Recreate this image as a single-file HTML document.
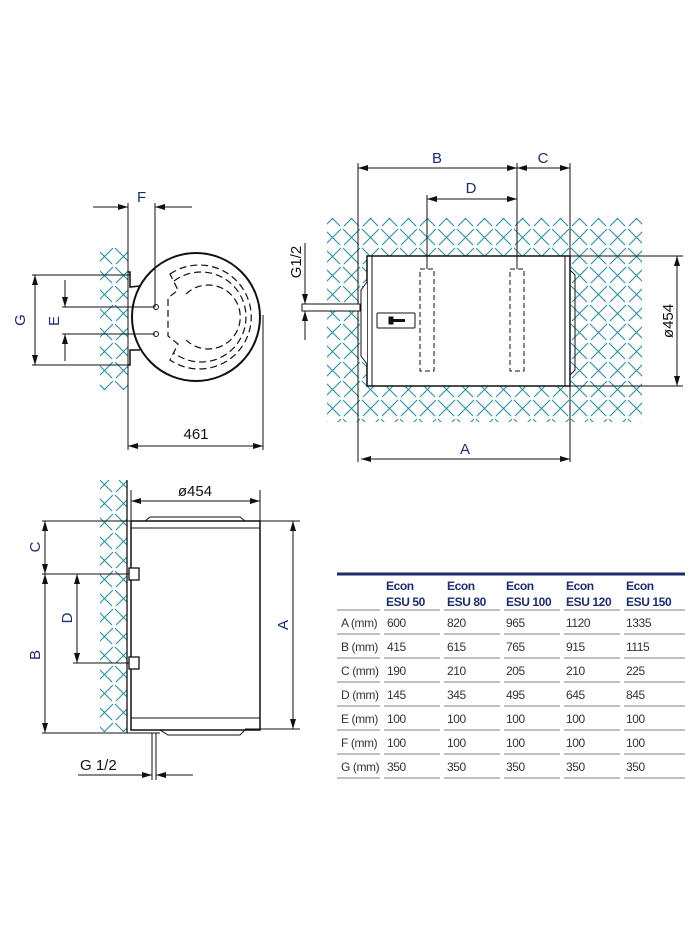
<!DOCTYPE html>
<html><head><meta charset="utf-8"><style>
html,body{margin:0;padding:0;background:#fff}
svg{display:block}
.t{font-family:"Liberation Sans",sans-serif;fill:#1d2d6b;font-size:15px}
.k{font-family:"Liberation Sans",sans-serif;fill:#111;font-size:15px}
.tb{font-family:"Liberation Sans Narrow","Liberation Sans",sans-serif;font-size:12px;fill:#333;letter-spacing:-0.4px}
.th{font-family:"Liberation Sans Narrow","Liberation Sans",sans-serif;font-size:12px;fill:#1d2d6b;font-weight:bold;letter-spacing:-0.4px}
</style></head><body>
<svg width="700" height="933" viewBox="0 0 700 933" xmlns="http://www.w3.org/2000/svg">
<defs>
<pattern id="h" width="19" height="19" patternUnits="userSpaceOnUse">
<path d="M1,1 L17,17 M18,1 L2,17" stroke="#2a8fa0" stroke-width="1.1"/>
</pattern>
<marker id="a" markerWidth="10" markerHeight="6" refX="10" refY="3" orient="auto-start-reverse" markerUnits="userSpaceOnUse">
<path d="M0,0 L10,3 L0,6 Z" fill="#111"/>
</marker>
</defs>
<g stroke="#111" stroke-width="1" fill="none">
<!-- TOP LEFT -->
<rect x="100" y="248" width="28" height="142" fill="url(#h)" stroke="none"/>
<line x1="128" y1="203" x2="128" y2="450"/>
<line x1="155" y1="203" x2="155" y2="307"/>
<line x1="263" y1="315" x2="263" y2="450"/>
<line x1="93" y1="207" x2="128" y2="207" marker-end="url(#a)"/>
<line x1="192" y1="207" x2="155" y2="207" marker-end="url(#a)"/>
<line x1="128" y1="446" x2="263" y2="446" marker-start="url(#a)" marker-end="url(#a)"/>
<line x1="32" y1="275" x2="130" y2="275"/>
<line x1="32" y1="365" x2="130" y2="365"/>
<line x1="35" y1="275" x2="35" y2="365" marker-start="url(#a)" marker-end="url(#a)"/>
<line x1="62" y1="307" x2="155" y2="307"/>
<line x1="62" y1="334" x2="155" y2="334"/>
<line x1="65" y1="280" x2="65" y2="307" marker-end="url(#a)"/>
<line x1="65" y1="361" x2="65" y2="334" marker-end="url(#a)"/>
<circle cx="196" cy="317" r="64" stroke-width="2"/>
<path d="M128,272 L130,272 L130,287 L140,286 M128,365 L130,365 L130,350 L140,350" stroke-width="1.5"/>
<circle cx="156" cy="307" r="2.5"/>
<circle cx="156" cy="334" r="2.5"/>
<g stroke-dasharray="7,4" stroke-width="1.2">
<path d="M186,294 A32,32 0 1 1 186,340"/>
<path d="M170,274 A52,52 0 1 1 170,360 L178,344 L168,336 L168,298 L178,290 Z"/>
<path d="M174,281 A45,45 0 1 1 174,353"/>
</g>
<!-- TOP RIGHT -->
<path fill="url(#h)" stroke="none" fill-rule="evenodd" d="M327,218 H642 V422 H327 Z M367,256 H570 V386 H367 Z"/>
<rect x="367" y="256" width="203" height="130" fill="#fff" stroke-width="1.5"/>
<line x1="372" y1="256" x2="372" y2="386"/>
<line x1="565" y1="256" x2="565" y2="386"/>
<path d="M367,282 L361,290 L361,356 L367,364" fill="#fff"/>
<path d="M570,270 L575,275 L575,370 L570,375"/>
<line x1="358" y1="163" x2="358" y2="462"/>
<line x1="570" y1="163" x2="570" y2="462"/>
<line x1="517" y1="163" x2="517" y2="272"/>
<line x1="427" y1="195" x2="427" y2="272"/>
<line x1="358" y1="168" x2="517" y2="168" marker-start="url(#a)" marker-end="url(#a)"/>
<line x1="517" y1="168" x2="570" y2="168" marker-start="url(#a)" marker-end="url(#a)"/>
<line x1="427" y1="199" x2="517" y2="199" marker-start="url(#a)" marker-end="url(#a)"/>
<line x1="361" y1="459" x2="570" y2="459" marker-start="url(#a)" marker-end="url(#a)"/>
<line x1="570" y1="256" x2="683" y2="256"/>
<line x1="570" y1="386" x2="683" y2="386"/>
<line x1="677" y1="256" x2="677" y2="386" marker-start="url(#a)" marker-end="url(#a)"/>
<rect x="420" y="269" width="14" height="102" stroke-dasharray="5,3" fill="#fff"/>
<rect x="510" y="269" width="14" height="102" stroke-dasharray="5,3" fill="#fff"/>
<rect x="377" y="313" width="38" height="15" rx="1"/>
<rect x="389" y="317" width="4" height="7" fill="#111"/>
<line x1="393" y1="320.5" x2="405" y2="320.5" stroke-width="3"/>
<rect x="302" y="304" width="58" height="7" fill="#fff"/>
<line x1="305" y1="243" x2="305" y2="304" marker-end="url(#a)"/>
<line x1="305" y1="340" x2="305" y2="311" marker-end="url(#a)"/>
<!-- BOTTOM LEFT -->
<rect x="100" y="480" width="27" height="252" fill="url(#h)" stroke="none"/>
<line x1="127" y1="480" x2="127" y2="733" stroke-width="1.3"/>
<rect x="131" y="521" width="129" height="209" stroke-width="1.5"/>
<line x1="131" y1="528" x2="260" y2="528"/>
<line x1="131" y1="718" x2="260" y2="718"/>
<path d="M145,521 L150,517 L240,517 L245,521"/>
<path d="M160,730 L168,735 L240,735 L245,730"/>
<line x1="131" y1="490" x2="131" y2="521"/>
<line x1="260" y1="490" x2="260" y2="521"/>
<line x1="131" y1="501" x2="260" y2="501" marker-start="url(#a)" marker-end="url(#a)"/>
<line x1="42" y1="521" x2="300" y2="521"/>
<line x1="245" y1="729" x2="300" y2="729"/>
<line x1="293" y1="521" x2="293" y2="729" marker-start="url(#a)" marker-end="url(#a)"/>
<line x1="42" y1="574" x2="132" y2="574"/>
<line x1="73" y1="663" x2="132" y2="663"/>
<line x1="42" y1="733" x2="160" y2="733"/>
<line x1="45" y1="521" x2="45" y2="574" marker-start="url(#a)" marker-end="url(#a)"/>
<line x1="45" y1="574" x2="45" y2="733" marker-start="url(#a)" marker-end="url(#a)"/>
<line x1="77" y1="574" x2="77" y2="663" marker-start="url(#a)" marker-end="url(#a)"/>
<rect x="129" y="568" width="10" height="12" fill="#fff" stroke-width="1.3"/>
<rect x="129" y="657" width="10" height="12" fill="#fff" stroke-width="1.3"/>
<line x1="152" y1="733" x2="152" y2="780"/>
<line x1="156" y1="733" x2="156" y2="780"/>
<line x1="78" y1="775" x2="152" y2="775" marker-end="url(#a)"/>
<line x1="193" y1="775" x2="156" y2="775" marker-end="url(#a)"/>
</g>
<!-- labels -->
<text class="t" x="137" y="202">F</text>
<text class="t" transform="translate(25,320) rotate(-90)" text-anchor="middle">G</text>
<text class="t" transform="translate(59,321) rotate(-90)" text-anchor="middle">E</text>
<text class="k" x="196" y="439" text-anchor="middle">461</text>
<text class="t" x="437" y="163" text-anchor="middle">B</text>
<text class="t" x="543" y="163" text-anchor="middle">C</text>
<text class="t" x="471" y="193" text-anchor="middle">D</text>
<text class="t" x="465" y="454" text-anchor="middle">A</text>
<text class="k" transform="translate(673,321) rotate(-90)" text-anchor="middle">ø454</text>
<text class="k" transform="translate(301,262) rotate(-90)" text-anchor="middle">G1/2</text>
<text class="k" x="195" y="496" text-anchor="middle">ø454</text>
<text class="t" transform="translate(288,625) rotate(-90)" text-anchor="middle">A</text>
<text class="t" transform="translate(40,547) rotate(-90)" text-anchor="middle">C</text>
<text class="t" transform="translate(40,655) rotate(-90)" text-anchor="middle">B</text>
<text class="t" transform="translate(72,618) rotate(-90)" text-anchor="middle">D</text>
<text class="k" x="80" y="770">G 1/2</text>
<!-- TABLE -->
<line x1="337" y1="574" x2="685" y2="574" stroke="#1d2d6b" stroke-width="3"/>
<g class="th">
<text x="386" y="590">Econ</text><text x="386" y="606">ESU 50</text>
<text x="447" y="590">Econ</text><text x="447" y="606">ESU 80</text>
<text x="506" y="590">Econ</text><text x="506" y="606">ESU 100</text>
<text x="566" y="590">Econ</text><text x="566" y="606">ESU 120</text>
<text x="626" y="590">Econ</text><text x="626" y="606">ESU 150</text>
</g>
<g stroke="#999" stroke-width="1.2">
<path d="M337,610H380M384,610H440M444,610H500M504,610H560M564,610H620M624,610H685"/>
<path d="M337,634H380M384,634H440M444,634H500M504,634H560M564,634H620M624,634H685"/>
<path d="M337,658H380M384,658H440M444,658H500M504,658H560M564,658H620M624,658H685"/>
<path d="M337,682H380M384,682H440M444,682H500M504,682H560M564,682H620M624,682H685"/>
<path d="M337,706H380M384,706H440M444,706H500M504,706H560M564,706H620M624,706H685"/>
<path d="M337,730H380M384,730H440M444,730H500M504,730H560M564,730H620M624,730H685"/>
<path d="M337,754H380M384,754H440M444,754H500M504,754H560M564,754H620M624,754H685"/>
<path d="M337,778H380M384,778H440M444,778H500M504,778H560M564,778H620M624,778H685"/>
</g>
<g class="tb">
<text x="341" y="627">A (mm)</text><text x="387" y="627">600</text><text x="447" y="627">820</text><text x="506" y="627">965</text><text x="566" y="627">1120</text><text x="626" y="627">1335</text>
<text x="341" y="651">B (mm)</text><text x="387" y="651">415</text><text x="447" y="651">615</text><text x="506" y="651">765</text><text x="566" y="651">915</text><text x="626" y="651">1115</text>
<text x="341" y="675">C (mm)</text><text x="387" y="675">190</text><text x="447" y="675">210</text><text x="506" y="675">205</text><text x="566" y="675">210</text><text x="626" y="675">225</text>
<text x="341" y="699">D (mm)</text><text x="387" y="699">145</text><text x="447" y="699">345</text><text x="506" y="699">495</text><text x="566" y="699">645</text><text x="626" y="699">845</text>
<text x="341" y="723">E (mm)</text><text x="387" y="723">100</text><text x="447" y="723">100</text><text x="506" y="723">100</text><text x="566" y="723">100</text><text x="626" y="723">100</text>
<text x="341" y="747">F (mm)</text><text x="387" y="747">100</text><text x="447" y="747">100</text><text x="506" y="747">100</text><text x="566" y="747">100</text><text x="626" y="747">100</text>
<text x="341" y="771">G (mm)</text><text x="387" y="771">350</text><text x="447" y="771">350</text><text x="506" y="771">350</text><text x="566" y="771">350</text><text x="626" y="771">350</text>
</g>
</svg>
</body></html>
